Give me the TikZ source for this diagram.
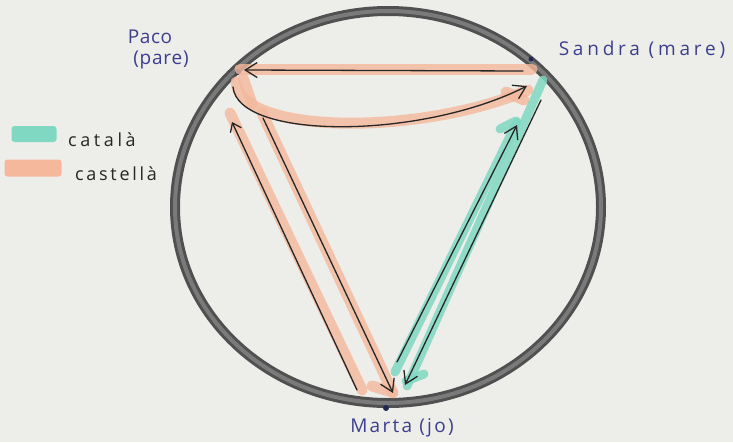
\documentclass[tikz,border=0pt]{standalone}
\usepackage{fontspec}
\setmainfont{Open Sans}
\usetikzlibrary{arrows.meta}
\definecolor{paper}{HTML}{EDEDE9}
\definecolor{salmon}{HTML}{F5B89C}
\definecolor{mint}{HTML}{80D8C2}
\definecolor{ink}{HTML}{3C3F8E}
\definecolor{ringdark}{HTML}{505050}
\definecolor{ringmid}{HTML}{7A7A7A}
\begin{document}
\begin{tikzpicture}[x=1pt,y=-1pt,
  arr/.style={draw=black!85, line width=1.3pt, line cap=round, line join=round,
    -{Straight Barb[length=12pt,width=15pt]}},
  arrsmall/.style={arr, -{Straight Barb[length=8pt,width=12pt]}},
  hlS/.style={draw=salmon, line width=11pt, line cap=round, opacity=0.8},
  hlT/.style={draw=mint, line width=9pt, line cap=round, opacity=0.85},
  dot/.style={circle, fill=ink!60!black, inner sep=0pt, minimum size=6pt},
  lbl/.style={text=ink, inner sep=0pt},
  leg/.style={font=\fontsize{18}{20}\selectfont, text=black!85, inner sep=0pt, anchor=base west},
  swatch/.style={inner sep=0pt, rounded corners=3pt}
]
\fill[paper] (0,0) rectangle (733,442);
\useasboundingbox (0,0) rectangle (733,442);

% ring
\draw[ringdark, line width=10pt] (388,207) ellipse [x radius=213pt, y radius=196pt];
\draw[ringmid, line width=4pt] (388,207) ellipse [x radius=213pt, y radius=196pt];

% people (points on the ring)
\node[dot] (paco) at (238,72) {};
\node[dot, minimum size=5pt] (sandra) at (531,59) {};
\node[dot] (marta) at (386,408) {};

% labels
\node[lbl, font=\fontsize{19}{22}\selectfont\addfontfeature{LetterSpace=3}] (paconame) at (150,37) {Paco};
\node[lbl, font=\fontsize{19}{22}\selectfont\addfontfeature{LetterSpace=4}] (pacorole) at (161,60) {(pare)};
\node[lbl, font=\fontsize{19}{22}\selectfont\addfontfeature{LetterSpace=20}] (sandralbl) at (642,50) {Sandra (mare)};
\node[lbl, font=\fontsize{19}{22}\selectfont\addfontfeature{LetterSpace=12}] (martalbl) at (402,428) {Marta (jo)};

% arrow end points
\coordinate (sA) at (523,71);  \coordinate (pA) at (244,70);
\coordinate (pB) at (233,87);  \coordinate (sB) at (527,86);
\coordinate (mC) at (357,390); \coordinate (pC) at (232,122);
\coordinate (pD) at (263,118); \coordinate (mD) at (393,393);
\coordinate (mE) at (397,362); \coordinate (sE) at (517,125);
\coordinate (sF) at (541,100); \coordinate (mF) at (405,385);

% highlighter bands: castellà
\draw[hlS] (240,69) -- (532,69);
\draw[hlS] (236,82) .. controls (240,135) and (420,136) .. (528,90);
\draw[hlS] (506,92) -- (524,100);
\draw[hlS] (243,78) -- (252,104);
\draw[hlS] (230,113) -- (362,390);
\draw[hlS] (262,113) -- (393,393);
\draw[hlS] (372,386) -- (392,392);

% highlighter bands: català
\draw[hlT] (395,372) -- (517,122);
\draw[hlT] (500,129) -- (516,121);
\draw[hlT] (543,80) -- (407,386);
\draw[hlT] (406,381) -- (424,374);

% arrows
\draw[arr] (sA) -- (pA);
\draw[arr] (pB) .. controls (238,140) and (420,140) .. (sB);
\draw[arrsmall] (mC) -- (pC);
\draw[arr] (pD) -- (mD);
\draw[arr] (mE) -- (sE);
\draw[arr] (sF) -- (mF);

% legend
\node[swatch, fill=mint, minimum width=45pt, minimum height=16pt] (legcat) at (34,134) {};
\node[swatch, fill=salmon, minimum width=57pt, minimum height=17pt] (legcas) at (33,168) {};
\node[leg, font=\fontsize{18}{20}\selectfont\addfontfeature{LetterSpace=20}] (legcattxt) at (68,146) {català};
\node[leg, font=\fontsize{18}{20}\selectfont\addfontfeature{LetterSpace=15}] (legcastxt) at (75,180) {castellà};
\end{tikzpicture}
\end{document}
